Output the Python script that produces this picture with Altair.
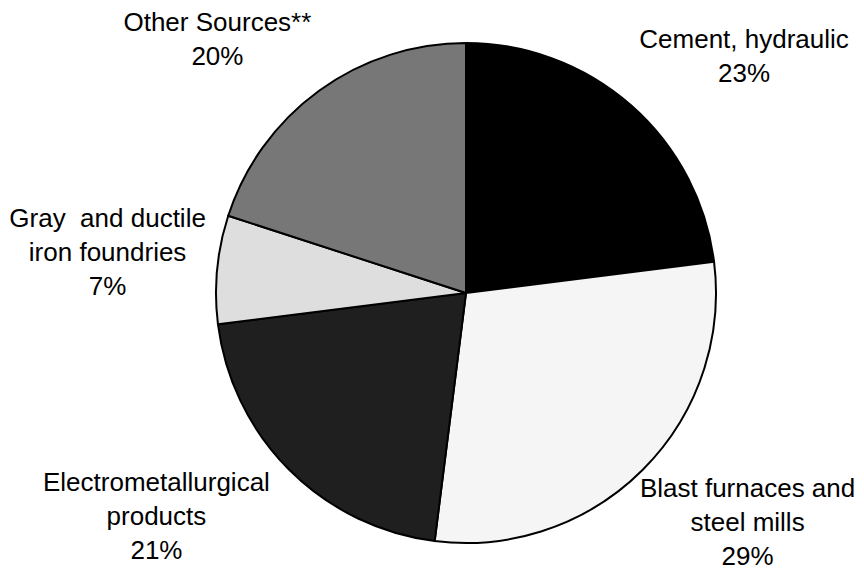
import altair as alt
import pandas as pd

categories = [
    "Cement, hydraulic",
    "Blast furnaces and steel mills",
    "Electrometallurgical products",
    "Gray and ductile iron foundries",
    "Other Sources**",
]
values = [23, 29, 21, 7, 20]
label_text = [
    "Cement, hydraulic\n23%",
    "Blast furnaces and\nsteel mills\n29%",
    "Electrometallurgical\nproducts\n21%",
    "Gray\u00a0 and ductile\niron foundries\n7%",
    "Other Sources**\n20%",
]
colors = ["#000000", "#f5f5f5", "#1f1f1f", "#dedede", "#777777"]

df = pd.DataFrame({
    "category": categories,
    "value": values,
    "order": list(range(len(categories))),
    "label": label_text,
})

# layout (not data)
CX, CY = 458, 285
PIE_R = 250
LABEL_R = 360
label_offsets = {
    "Cement, hydraulic": (40, 17),
    "Blast furnaces and steel mills": (27, -59),
    "Electrometallurgical products": (-55, -65),
    "Gray and ductile iron foundries": (0, -40),
    "Other Sources**": (-37, 21),
}

theta_scale = alt.Scale(domain=[0, 100])
base = alt.Chart(df)

pie = base.mark_arc(radius=PIE_R, stroke="black", strokeWidth=2).encode(
    theta=alt.Theta("value:Q", stack=True, scale=theta_scale),
    color=alt.Color("category:N", scale=alt.Scale(domain=categories, range=colors), legend=None),
    order=alt.Order("order:Q"),
    x=alt.value(CX),
    y=alt.value(CY),
)

text_base = base.transform_window(
    cum="sum(value)", sort=[alt.SortField("order")], frame=[None, 0]
).transform_calculate(mid="datum.cum - datum.value / 2")

layers = [pie]
for cat in categories:
    dx, dy = label_offsets[cat]
    layers.append(
        text_base.transform_filter(alt.datum.category == cat)
        .mark_text(
            radius=LABEL_R, dx=dx, dy=dy, fontSize=26, font="Liberation Sans",
            lineBreak="\n", lineHeight=34, align="center", baseline="middle", color="black",
        )
        .encode(
            theta=alt.Theta("mid:Q", stack=False, scale=theta_scale),
            text="label:N",
            x=alt.value(CX),
            y=alt.value(CY),
        )
    )

chart = alt.layer(*layers).properties(
    width=848, height=563, padding=0, autosize=alt.AutoSizeParams(type="none")
).configure_view(stroke=None)

chart.save("out.html", embed_options={"renderer": "svg", "actions": False})
